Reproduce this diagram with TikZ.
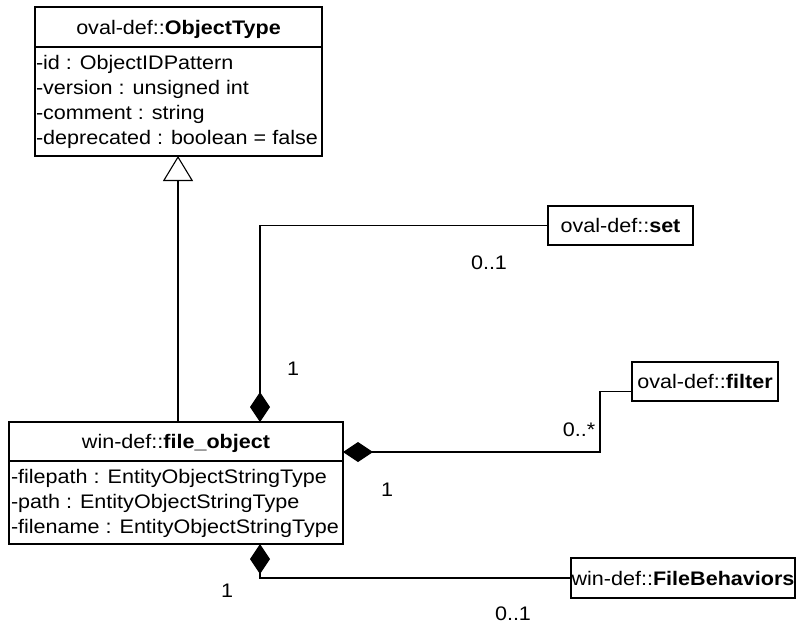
\documentclass[tikz,border=0pt]{standalone}
\usepackage{fontspec}
\setmainfont{Liberation Sans}[FakeStretch=1.1]
\usetikzlibrary{arrows.meta}
\newcommand\umlfs{\fontsize{19.6}{25}\selectfont}
\begin{document}
\begin{tikzpicture}[x=1pt,y=-1pt, line width=1.1pt,
  box/.style={draw, line width=1.6pt, inner sep=0pt, outer sep=0pt, font=\umlfs},
  lbl/.style={inner sep=0pt, outer sep=0pt, font=\umlfs},
  comp/.style={-{Diamond[length=30pt,width=20pt,fill=black]}},
  gen/.style={-{Triangle[open,length=25pt,width=30pt,fill=white]}}]
\useasboundingbox (0,0) rectangle (796,624);

% ObjectType
\node[box, minimum width=287pt, minimum height=149pt] (ot) at (178.5,81.5) {};
\draw[line width=1.6pt] (ot.west |- 0,47) -- (ot.east |- 0,47);
\node[lbl, anchor=base] (oth) at (178.5,34) {oval-def::\textbf{ObjectType}};
\node[lbl, anchor=base west] (ota1) at (36,69) {-id : ObjectIDPattern};
\node[lbl, anchor=base west] (ota2) at (36,94) {-version : unsigned int};
\node[lbl, anchor=base west] (ota3) at (36,119) {-comment : string};
\node[lbl, anchor=base west] (ota4) at (36,144) {-deprecated : boolean = false};

% file_object
\node[box, minimum width=334pt, minimum height=122pt] (fo) at (176,483) {};
\draw[line width=1.6pt] (fo.west |- 0,461) -- (fo.east |- 0,461);
\node[lbl, anchor=base] (foh) at (176,448) {win-def::\textbf{file\_object}};
\node[lbl, anchor=base west] (foa1) at (11,483) {-filepath : EntityObjectStringType};
\node[lbl, anchor=base west] (foa2) at (11,508) {-path : EntityObjectStringType};
\node[lbl, anchor=base west] (foa3) at (11,533) {-filename : EntityObjectStringType};

% other classes
\node[box, minimum width=145pt, minimum height=39pt] (set) at (620.5,225.5) {oval-def::\textbf{set}};
\node[box, minimum width=146pt, minimum height=39pt] (filter) at (705,381.5) {oval-def::\textbf{filter}};
\node[box, minimum width=224pt, minimum height=40pt] (fb) at (683,578) {win-def::\textbf{FileBehaviors}};

% anchor coordinates on file_object
\coordinate (c1) at (260,422);
\coordinate (c2) at (343,452);
\coordinate (c3) at (260,544);
\coordinate (g1) at (178,422);
\coordinate (g2) at (178,156);
\coordinate (bend) at (600,452);

% connectors
\draw[gen] (g1) -- (g2);
\draw[comp] (set.west) -| (c1);
\draw[comp] ([yshift=-10pt]filter.west) -| (bend) -- (c2);
\draw[comp] (fb.west) -| (c3);

% multiplicities
\node[lbl] (m1) at (293,369) {1};
\node[lbl] (m2) at (489,263) {0..1};
\node[lbl] (m3) at (579,430) {0..*};
\node[lbl] (m4) at (387,490) {1};
\node[lbl] (m5) at (227,591) {1};
\node[lbl] (m6) at (513,614) {0..1};
\end{tikzpicture}
\end{document}
